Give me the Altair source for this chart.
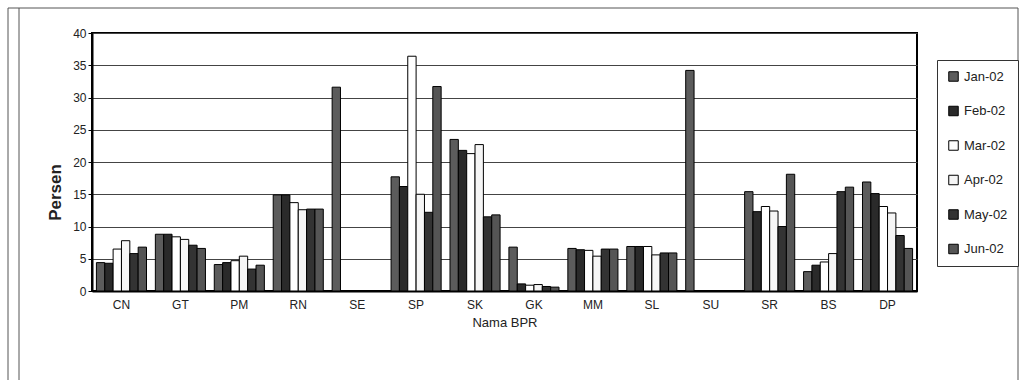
import altair as alt
import pandas as pd

categories = ["CN", "GT", "PM", "RN", "SE", "SP", "SK", "GK", "MM", "SL", "SU", "SR", "BS", "DP"]
months = ["Jan-02", "Feb-02", "Mar-02", "Apr-02", "May-02", "Jun-02"]

jan = [4.4, 8.8, 4.1, 14.9, 31.6, 17.7, 23.5, 6.8, 6.6, 6.9, 34.2, 15.4, 3.0, 16.9]
feb = [4.3, 8.8, 4.4, 14.9, 0.0, 16.2, 21.8, 1.1, 6.4, 6.9, 0.0, 12.3, 4.0, 15.1]
mar = [6.5, 8.4, 4.7, 13.7, 0.0, 36.4, 21.3, 0.9, 6.3, 6.9, 0.0, 13.1, 4.5, 13.1]
apr = [7.8, 8.0, 5.4, 12.6, 0.0, 15.0, 22.7, 1.0, 5.4, 5.6, 0.0, 12.4, 5.8, 12.1]
may = [5.8, 7.1, 3.4, 12.7, 0.0, 12.2, 11.5, 0.7, 6.5, 5.9, 0.0, 10.0, 15.4, 8.6]
jun = [6.8, 6.6, 4.0, 12.7, 0.0, 31.7, 11.8, 0.6, 6.5, 5.9, 0.0, 18.1, 16.1, 6.6]

series = [jan, feb, mar, apr, may, jun]
colors = ["#5c5c5c", "#2a2a2a", "#ffffff", "#f6f6f6", "#333333", "#555555"]

rows = []
for m, vals in zip(months, series):
    for c, v in zip(categories, vals):
        rows.append({"BPR": c, "Bulan": m, "Persen": v})
df = pd.DataFrame(rows)

FONT = "Liberation Sans Narrow, Liberation Sans, Arial"

bars = alt.Chart(df).mark_bar(stroke="black", strokeWidth=1).encode(
    x=alt.X("BPR:N", sort=categories,
            scale=alt.Scale(paddingInner=0.15, paddingOuter=0.075),
            axis=alt.Axis(title="Nama BPR", labelAngle=0, labelFontSize=12,
                          labelFont=FONT, labelColor="#222", labelPadding=8,
                          ticks=False, domainColor="black", domainWidth=2,
                          titleFont=FONT, titleFontSize=13, titleFontWeight="normal",
                          titleColor="#222", titleY=31, titleBaseline="middle")),
    xOffset=alt.XOffset("Bulan:N", sort=months),
    y=alt.Y("Persen:Q",
            scale=alt.Scale(domain=[0, 40], nice=False),
            axis=alt.Axis(title="Persen", values=list(range(0, 41, 5)),
                          labelFontSize=12, labelFont=FONT, labelColor="#222",
                          tickColor="black", tickSize=4, domainColor="black",
                          domainWidth=2, gridColor="#444", gridWidth=1,
                          titleFont="Liberation Sans", titleFontSize=17,
                          titleFontWeight="bold", titleColor="#222",
                          titleX=-37, titleY=159, titleBaseline="middle")),
    fill=alt.Fill("Bulan:N", sort=months,
                  scale=alt.Scale(domain=months, range=colors),
                  legend=alt.Legend(title=None, orient="none", legendX=845, legendY=27,
                                    symbolType="square", symbolSize=90,
                                    symbolStrokeColor="black", symbolStrokeWidth=1,
                                    labelFont=FONT, labelFontSize=13, labelColor="#222",
                                    rowPadding=19.5, padding=10, strokeColor="#333",
                                    fillColor="white", labelOffset=4)),
)

frame_df = pd.DataFrame({"k": [0]})
left1 = alt.Chart(frame_df).mark_rule(color="#555", strokeWidth=1).encode(
    x=alt.value(-84), y=alt.value(-25), y2=alt.value(347))
left2 = alt.Chart(frame_df).mark_rule(color="#555", strokeWidth=1).encode(
    x=alt.value(-73), y=alt.value(-25), y2=alt.value(347))
top = alt.Chart(frame_df).mark_rule(color="#555", strokeWidth=1).encode(
    x=alt.value(-84), x2=alt.value(926), y=alt.value(-25))
right = alt.Chart(frame_df).mark_rule(color="#555", strokeWidth=1).encode(
    x=alt.value(926), y=alt.value(-25), y2=alt.value(347))

chart = alt.layer(bars, left1, left2, top, right).properties(
    width=825, height=258,
    autosize=alt.AutoSizeParams(type="none"),
    padding={"left": 92, "top": 33, "right": 103, "bottom": 89},
    background="white",
).configure_view(stroke="black", strokeWidth=2)

chart.save("out.html", embed_options={"renderer": "svg", "actions": False})
